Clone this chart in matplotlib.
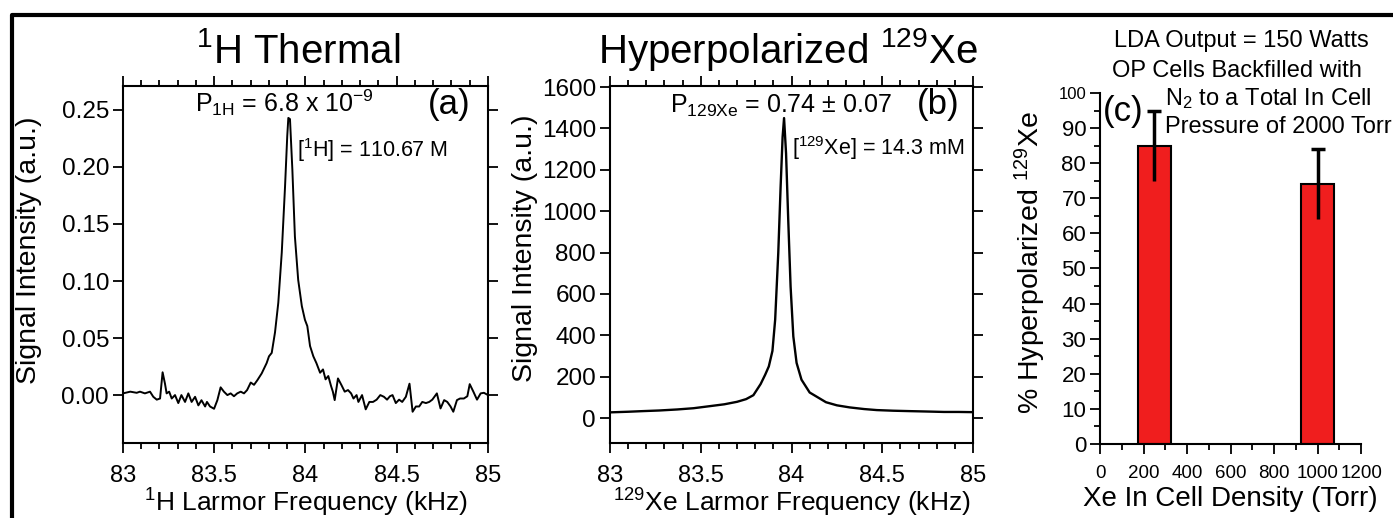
import numpy as np
import matplotlib
matplotlib.use('Agg')
import matplotlib.pyplot as plt
from matplotlib.ticker import MultipleLocator
from matplotlib.lines import Line2D

plt.rcParams['font.family'] = ['Liberation Sans', 'DejaVu Sans']
plt.rcParams['mathtext.fontset'] = 'custom'
plt.rcParams['mathtext.rm'] = 'Liberation Sans'
plt.rcParams['mathtext.default'] = 'regular'
plt.rcParams['axes.linewidth'] = 1.5

# 1H thermal spectrum (kHz, a.u.)
h_freq = [83.00, 83.04, 83.075, 83.093, 83.12, 83.148, 83.166, 83.185, 83.203, 83.217,
          83.23, 83.239, 83.253, 83.267, 83.285, 83.303, 83.32, 83.34, 83.358, 83.376,
          83.395, 83.413, 83.43, 83.45, 83.46, 83.477, 83.499, 83.517, 83.535, 83.553,
          83.572, 83.59, 83.608, 83.626, 83.645, 83.663, 83.68, 83.70, 83.718, 83.736,
          83.76, 83.787, 83.80, 83.815, 83.833, 83.851, 83.87, 83.888, 83.90, 83.906,
          83.915, 83.928, 83.942, 83.96, 83.98, 83.997, 84.01, 84.025, 84.043, 84.06,
          84.08, 84.096, 84.11, 84.125, 84.14, 84.15, 84.16, 84.178, 84.197, 84.215,
          84.233, 84.25, 84.263, 84.28, 84.29, 84.31, 84.33, 84.35, 84.37, 84.39,
          84.41, 84.43, 84.447, 84.463, 84.477, 84.495, 84.513, 84.53, 84.55, 84.57,
          84.587, 84.605, 84.623, 84.64, 84.66, 84.678, 84.695, 84.72, 84.74, 84.76,
          84.777, 84.795, 84.81, 84.83, 84.847, 84.868, 84.887, 84.90, 84.92, 84.94,
          84.96, 84.978, 85.00]
h_signal = [0.0015, 0.003, 0.002, 0.003, 0.0015, 0.003, -0.0015, -0.004, -0.003, 0.020,
            0.010, 0.0015, 0.003, -0.003, 0.0, -0.007, 0.0, -0.006, 0.0015, -0.006,
            -0.0015, -0.009, -0.0045, -0.010, -0.006, -0.010, -0.012, -0.0045, 0.0068, 0.003,
            0.0, 0.0015, -0.001, 0.0015, 0.003, 0.0015, 0.0044, 0.011, 0.009, 0.013,
            0.019, 0.028, 0.034, 0.037, 0.055, 0.081, 0.125, 0.183, 0.227, 0.243,
            0.242, 0.198, 0.139, 0.101, 0.078, 0.066, 0.0605, 0.043, 0.034, 0.028,
            0.0196, 0.0225, 0.0138, 0.0167, 0.008, 0.003, -0.0044, 0.0146, 0.0088, 0.003,
            0.0044, 0.0015, -0.003, 0.0, -0.006, 0.0, -0.0125, -0.006, -0.006, -0.004,
            0.0, -0.0015, -0.004, -0.001, 0.0, -0.007, -0.004, -0.006, -0.0015, 0.010,
            -0.0146, -0.010, -0.010, -0.006, -0.007, -0.006, -0.004, 0.0015, -0.0117, -0.0044,
            -0.006, -0.010, -0.0146, -0.0044, -0.003, -0.003, -0.001, 0.0096, 0.003, -0.004,
            0.0015, 0.002, 0.0]

# hyperpolarized 129Xe spectrum (kHz, a.u.)
xe_freq = [83.00, 83.10, 83.18, 83.27, 83.37, 83.46, 83.55, 83.63, 83.70, 83.75,
           83.79, 83.83, 83.855, 83.875, 83.895, 83.91, 83.927, 83.94, 83.951, 83.959,
           83.97, 83.982, 83.995, 84.01, 84.028, 84.055, 84.10, 84.19, 84.25, 84.32,
           84.40, 84.47, 84.56, 84.65, 84.75, 84.84, 84.92, 85.00]
xe_signal = [28, 31, 34, 37, 42, 48, 58, 67, 79, 92,
             111, 165, 210, 250, 325, 476, 797, 1118, 1359, 1450,
             1279, 958, 636, 395, 267, 186, 124, 77, 62, 52,
             44, 39, 36, 34, 32, 30, 30, 29]

freq_ticks = [83, 83.5, 84, 84.5, 85]
freq_labels = ['83', '83.5', '84', '84.5', '85']

# polarization vs xenon density
xe_density = [250, 1000]
polarization = [85, 74]
pol_err = [10, 10]
xticks_c = [0, 200, 400, 600, 800, 1000, 1200]

fig = plt.figure(figsize=(13.93, 5.18), dpi=100)

# frame around the figure
fig.add_artist(Line2D([12 / 1393, 12 / 1393, 1.0], [0.0, 1 - 15 / 518, 1 - 15 / 518],
                      transform=fig.transFigure, color='black', lw=3))

ax1 = fig.add_axes([0.0883, 0.1448, 0.2620, 0.6892])
ax2 = fig.add_axes([0.4379, 0.1448, 0.2606, 0.6892])
ax3 = fig.add_axes([0.7897, 0.1429, 0.1874, 0.6776])

for ax in (ax1, ax2):
    ax.set_xlim(83, 85)
    ax.set_xticks(freq_ticks)
    ax.set_xticklabels(freq_labels)
    ax.xaxis.set_minor_locator(MultipleLocator(0.1))
    ax.tick_params(which='both', direction='out', top=True, right=True,
                   labelsize=17.5, width=1.3)
    ax.tick_params(which='major', length=7)
    ax.tick_params(which='minor', length=4)
    ax.tick_params(axis='x', labelsize=17, pad=9)
    ax.tick_params(axis='y', pad=3)

ax1.plot(h_freq, h_signal, color='black', lw=1.4)
ax1.set_ylim(-0.042, 0.271)
ax1.set_yticks([0.0, 0.05, 0.10, 0.15, 0.20, 0.25])
ax1.set_yticklabels(['0.00', '0.05', '0.10', '0.15', '0.20', '0.25'])
ax1.set_xlabel(r'$^{1}$H Larmor Frequency (kHz)', fontsize=19, labelpad=0)
ax1.set_ylabel('Signal Intensity (a.u.)', fontsize=20.5)
ax1.yaxis.set_label_coords(-0.222, 0.541)
ax1.text(0.197, 0.927, r'P$_{1H}$ = 6.8 x 10$^{-9}$', transform=ax1.transAxes,
         fontsize=18, ha='left', va='baseline')
ax1.text(0.951, 0.947, '(a)', transform=ax1.transAxes, fontsize=25,
         ha='right', va='center')
ax1.text(0.477, 0.801, r'[$^{1}$H] = 110.67 M', transform=ax1.transAxes,
         fontsize=15.5, ha='left', va='baseline')

ax2.plot(xe_freq, xe_signal, color='black', lw=1.7)
ax2.set_ylim(-120, 1605)
ax2.set_yticks([0, 200, 400, 600, 800, 1000, 1200, 1400, 1600])
ax2.set_xlabel(r'$^{129}$Xe Larmor Frequency (kHz)', fontsize=19, labelpad=0)
ax2.set_ylabel('Signal Intensity (a.u.)', fontsize=20.5)
ax2.yaxis.set_label_coords(-0.198, 0.546)
ax2.text(0.165, 0.924, r'P$_{129Xe}$ = 0.74 ± 0.07', transform=ax2.transAxes,
         fontsize=18, ha='left', va='baseline')
ax2.text(0.964, 0.947, '(b)', transform=ax2.transAxes, fontsize=25,
         ha='right', va='center')
ax2.text(0.501, 0.807, r'[$^{129}$Xe] = 14.3 mM', transform=ax2.transAxes,
         fontsize=15.5, ha='left', va='baseline')

# panel titles
fig.text(298 / 1393, 0.878, r'$^{1}$H Thermal', fontsize=29, ha='center', va='baseline')
fig.text(788 / 1393, 0.878, r'Hyperpolarized $^{129}$Xe', fontsize=29,
         ha='center', va='baseline')

# bar panel
ax3.bar(xe_density, polarization, width=150, color='#f01e1e', edgecolor='black',
        linewidth=1.5, zorder=2)
ax3.errorbar(xe_density, polarization, yerr=pol_err, fmt='none', ecolor='black',
             elinewidth=2.5, capsize=0, zorder=3)
ax3.plot(xe_density, np.array(polarization) + np.array(pol_err), ls='none',
         marker='_', ms=10, mew=2.5, color='black', zorder=3)
ax3.set_xlim(0, 1200)
ax3.set_ylim(0, 100)
ax3.set_xticks(xticks_c)
ax3.set_yticks(range(0, 101, 10))
ax3.xaxis.set_minor_locator(MultipleLocator(100))
ax3.yaxis.set_minor_locator(MultipleLocator(5))
ax3.spines['top'].set_visible(False)
ax3.spines['right'].set_visible(False)
ax3.tick_params(which='both', direction='out', width=1.3)
ax3.tick_params(which='major', length=7)
ax3.tick_params(which='minor', length=4)
ax3.tick_params(axis='x', labelsize=13.5, pad=8)
ax3.tick_params(axis='y', labelsize=16, pad=3)
ax3.get_yticklabels()[-1].set_fontsize(12)
ax3.set_xlabel('Xe In Cell Density (Torr)', fontsize=20, labelpad=3)
ax3.set_ylabel(r'% Hyperpolarized $^{129}$Xe', fontsize=20.5)
ax3.yaxis.set_label_coords(-0.199, 0.516)

fig.text(1241 / 1393, 0.909, 'LDA Output = 150 Watts', fontsize=17, ha='center', va='baseline')
fig.text(1237 / 1393, 0.851, 'OP Cells Backfilled with', fontsize=17, ha='center', va='baseline')
fig.text(1165 / 1393, 0.797, r'N$_2$ to a Total In Cell', fontsize=17, ha='left', va='baseline')
fig.text(1165 / 1393, 0.743, 'Pressure of 2000 Torr', fontsize=17, ha='left', va='baseline')
fig.text(1103 / 1393, 0.784, '(c)', fontsize=25, ha='left', va='center')

fig.savefig('out.png', dpi=100)
